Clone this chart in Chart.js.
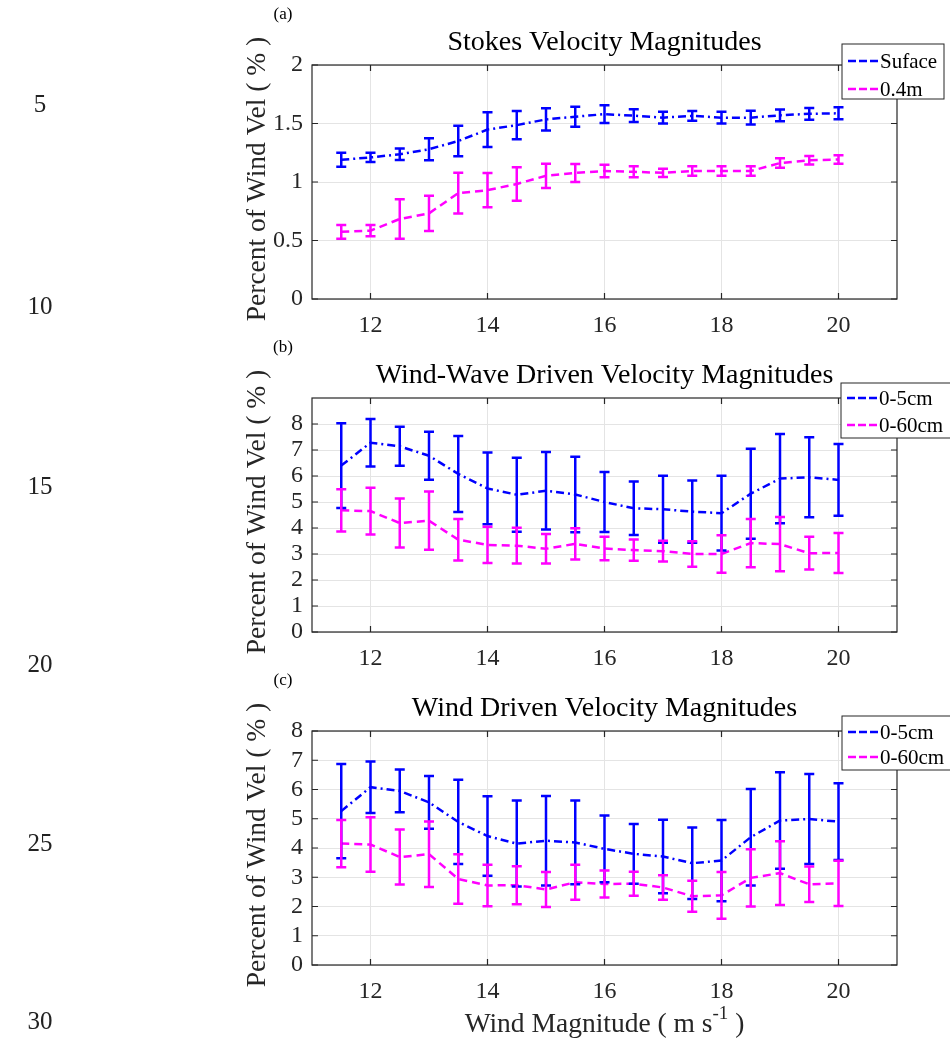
<!DOCTYPE html>
<html><head><meta charset="utf-8">
<script src="https://cdn.jsdelivr.net/npm/chart.js@4.4.1/dist/chart.umd.min.js"></script>
<style>
html,body{margin:0;padding:0;background:#fff;width:950px;height:1042px;overflow:hidden;position:relative;}
canvas{position:absolute;left:0;}
.ln{position:absolute;font-family:"Liberation Serif";font-size:25px;color:#222;transform:translate(-50%,-50%);line-height:1;}
</style></head><body>
<canvas id="ca" width="950" height="333" style="top:0px"></canvas>
<canvas id="cb" width="950" height="333" style="top:333px"></canvas>
<canvas id="cc" width="950" height="376" style="top:666px"></canvas>
<div class="ln" style="left:40px;top:103px">5</div>
<div class="ln" style="left:40px;top:305px">10</div>
<div class="ln" style="left:40px;top:485px">15</div>
<div class="ln" style="left:40px;top:663px">20</div>
<div class="ln" style="left:40px;top:842px">25</div>
<div class="ln" style="left:40px;top:1020px">30</div>
<script>
// ---- data ----
const windSpeed = [11.5,12,12.5,13,13.5,14,14.5,15,15.5,16,16.5,17,17.5,18,18.5,19,19.5,20];
const xTicks = [12,14,16,18,20];

const stokesSurface    = [1.19,1.21,1.237,1.28,1.35,1.448,1.486,1.535,1.558,1.58,1.567,1.55,1.565,1.55,1.55,1.57,1.583,1.587];
const stokesSurfaceErr = [0.06,0.04,0.05,0.095,0.13,0.148,0.12,0.095,0.085,0.075,0.054,0.05,0.042,0.05,0.058,0.05,0.05,0.051];
const stokes04m        = [0.574,0.584,0.684,0.732,0.905,0.93,0.983,1.053,1.077,1.094,1.087,1.078,1.094,1.094,1.094,1.162,1.186,1.192];
const stokes04mErr     = [0.058,0.048,0.168,0.151,0.175,0.146,0.143,0.104,0.077,0.054,0.047,0.036,0.04,0.04,0.04,0.04,0.036,0.036];

const wwd5cm     = [6.40,7.28,7.14,6.78,6.08,5.52,5.28,5.43,5.29,5.0,4.76,4.72,4.63,4.57,5.32,5.90,5.95,5.85];
const wwd5cmErr  = [1.63,0.91,0.75,0.92,1.46,1.38,1.42,1.49,1.45,1.15,1.03,1.29,1.2,1.44,1.73,1.72,1.54,1.38];
const wwd60cm    = [4.68,4.65,4.19,4.28,3.55,3.35,3.32,3.2,3.39,3.21,3.15,3.11,3.0,3.0,3.42,3.38,3.03,3.04];
const wwd60cmErr = [0.81,0.9,0.94,1.12,0.8,0.7,0.69,0.57,0.6,0.45,0.41,0.4,0.49,0.72,0.93,1.04,0.63,0.77];

const wd5cm     = [5.26,6.08,5.95,5.56,4.89,4.41,4.15,4.25,4.19,3.97,3.8,3.71,3.48,3.57,4.37,4.94,4.99,4.9];
const wd5cmErr  = [1.61,0.88,0.73,0.9,1.44,1.36,1.47,1.53,1.43,1.14,1.02,1.26,1.22,1.39,1.65,1.65,1.54,1.31];
const wd60cm    = [4.15,4.12,3.69,3.79,2.94,2.72,2.73,2.58,2.83,2.77,2.78,2.65,2.35,2.38,2.98,3.14,2.76,2.79];
const wd60cmErr = [0.81,0.93,0.94,1.12,0.85,0.71,0.65,0.6,0.6,0.46,0.41,0.42,0.53,0.8,0.98,1.09,0.61,0.77];

const yTicksA = [0,0.5,1,1.5,2];
const yTicksB = [0,1,2,3,4,5,6,7,8];
const yTicksC = [0,1,2,3,4,5,6,7,8];

// ---- styling ----
const FONT = 'Liberation Serif';
const AX = '#262626';
const BLUE = '#0000ff', MAG = '#ff00ff';
const DASH_B = [8,4,2,4], DASH_M = [8,5];

function decor(cfg){
  return {
    id:'decor'+cfg.label,
    afterDatasetsDraw(chart){
      const ctx = chart.ctx, ys = chart.scales.y;
      ctx.save();
      ctx.setLineDash([]);
      ctx.lineWidth = 2.5;
      chart.data.datasets.forEach((ds, di) => {
        const meta = chart.getDatasetMeta(di);
        ctx.strokeStyle = ds.borderColor;
        meta.data.forEach((pt, i) => {
          const v = ds.data[i].y, e = ds.errs[i];
          const y1 = ys.getPixelForValue(v + e), y2 = ys.getPixelForValue(v - e);
          const x = pt.x;
          ctx.beginPath();
          ctx.moveTo(x, y1); ctx.lineTo(x, y2);
          ctx.moveTo(x-5, y1); ctx.lineTo(x+5, y1);
          ctx.moveTo(x-5, y2); ctx.lineTo(x+5, y2);
          ctx.stroke();
        });
      });
      ctx.restore();
    },
    afterDraw(chart){
      const ctx = chart.ctx, a = chart.chartArea;
      const xs = chart.scales.x, ys = chart.scales.y;
      ctx.save();
      // box
      ctx.strokeStyle = AX; ctx.lineWidth = 1.2; ctx.setLineDash([]);
      ctx.strokeRect(a.left, a.top, a.right - a.left, a.bottom - a.top);
      // inward ticks
      ctx.beginPath();
      xTicks.forEach(v => { const x = xs.getPixelForValue(v);
        ctx.moveTo(x, a.bottom); ctx.lineTo(x, a.bottom - 6);
        ctx.moveTo(x, a.top); ctx.lineTo(x, a.top + 6); });
      cfg.yTicks.forEach(v => { const y = ys.getPixelForValue(v);
        ctx.moveTo(a.left, y); ctx.lineTo(a.left + 6, y);
        ctx.moveTo(a.right, y); ctx.lineTo(a.right - 6, y); });
      ctx.stroke();
      // title
      ctx.fillStyle = '#000';
      ctx.font = '28px "' + FONT + '"';
      ctx.textAlign = 'center'; ctx.textBaseline = 'middle';
      ctx.fillText(cfg.title, (a.left + a.right)/2, 43);
      // panel label
      ctx.font = '17px "' + FONT + '"';
      ctx.fillText(cfg.label, 283, 15);
      // y axis title
      ctx.save();
      ctx.translate(258, 179);
      ctx.rotate(-Math.PI/2);
      ctx.fillStyle = AX;
      ctx.font = '27.5px "' + FONT + '"';
      ctx.fillText('Percent of Wind Vel ( % )', 0, 0);
      ctx.restore();
      // legend
      const L = cfg.legend;
      ctx.fillStyle = '#fff';
      ctx.fillRect(L.x, L.y, L.w, L.h);
      ctx.strokeStyle = AX; ctx.lineWidth = 1;
      ctx.strokeRect(L.x, L.y, L.w, L.h);
      ctx.font = '21px "' + FONT + '"';
      ctx.textAlign = 'left';
      chart.data.datasets.forEach((ds, di) => {
        const yy = L.rows[di];
        ctx.strokeStyle = ds.borderColor; ctx.lineWidth = 2.5;
        ctx.setLineDash([8,3]);
        ctx.beginPath(); ctx.moveTo(L.x + 6, yy); ctx.lineTo(L.x + 37, yy); ctx.stroke();
        ctx.setLineDash([]);
        ctx.fillStyle = '#000';
        ctx.fillText(ds.label, L.x + 38, yy + 1);
      });
      // x axis title
      if (cfg.xTitle) {
        ctx.fillStyle = AX;
        const p1 = 'Wind Magnitude ( m s', sup = '-1', p2 = ' )';
        ctx.font = '27.5px "' + FONT + '"';
        const w1 = ctx.measureText(p1).width, w3 = ctx.measureText(p2).width;
        ctx.font = '19px "' + FONT + '"';
        const w2 = ctx.measureText(sup).width;
        let x0 = (a.left + a.right)/2 - (w1 + w2 + w3)/2;
        const yb = 359;
        ctx.textAlign = 'left';
        ctx.font = '27.5px "' + FONT + '"';
        ctx.fillText(p1, x0, yb);
        ctx.font = '19px "' + FONT + '"';
        ctx.fillText(sup, x0 + w1, yb - 11);
        ctx.font = '27.5px "' + FONT + '"';
        ctx.fillText(p2, x0 + w1 + w2, yb);
      }
      ctx.restore();
    }
  };
}

function makeChart(id, cfg){
  const H = document.getElementById(id).height;
  return new Chart(document.getElementById(id), {
    type:'line',
    data:{ datasets: cfg.series.map(s => ({
      label: s.label,
      data: windSpeed.map((x,i) => ({x:x, y:s.y[i]})),
      errs: s.e,
      borderColor: s.color, backgroundColor: s.color,
      borderWidth: 2.5, borderDash: s.dash,
      pointRadius: 0, fill: false, tension: 0
    }))},
    options:{
      responsive:false, animation:false,
      layout:{padding:{top:65, right:53, left:0, bottom:0}},
      plugins:{legend:{display:false}, title:{display:false}, tooltip:{enabled:false}},
      scales:{
        x:{type:'linear', min:11, max:21,
          afterBuildTicks: s => { s.ticks = xTicks.map(v => ({value:v})); },
          afterFit: s => { s.height = H - 65 - 234; },
          grid:{color:'#e4e4e4', lineWidth:1, drawTicks:false},
          border:{display:false},
          ticks:{padding:12, autoSkip:false, maxRotation:0, color:AX, font:{family:FONT, size:24}, callback: v => String(v)}
        },
        y:{type:'linear', min:0, max:cfg.ymax,
          afterBuildTicks: s => { s.ticks = cfg.yTicks.map(v => ({value:v})); },
          afterFit: s => { s.width = 312; },
          grid:{color:'#e4e4e4', lineWidth:1, drawTicks:false},
          border:{display:false},
          ticks:{padding:9, autoSkip:false, color:AX, font:{family:FONT, size:24}, callback: v => String(v)}
        }
      }
    },
    plugins:[decor(cfg)]
  });
}

makeChart('ca', {
  label:'(a)', title:'Stokes Velocity Magnitudes', ymax:2, yTicks:yTicksA,
  legend:{x:842, y:44, w:102, h:55, rows:[61,89]},
  series:[
    {label:'Suface', y:stokesSurface, e:stokesSurfaceErr, color:BLUE, dash:DASH_B},
    {label:'0.4m', y:stokes04m, e:stokes04mErr, color:MAG, dash:DASH_M}
  ]
});
makeChart('cb', {
  label:'(b)', title:'Wind-Wave Driven Velocity Magnitudes', ymax:9, yTicks:yTicksB,
  legend:{x:841, y:50, w:110, h:55, rows:[65,92]},
  series:[
    {label:'0-5cm', y:wwd5cm, e:wwd5cmErr, color:BLUE, dash:DASH_B},
    {label:'0-60cm', y:wwd60cm, e:wwd60cmErr, color:MAG, dash:DASH_M}
  ]
});
makeChart('cc', {
  label:'(c)', title:'Wind Driven Velocity Magnitudes', ymax:8, yTicks:yTicksC, xTitle:true,
  legend:{x:842, y:50, w:110, h:54, rows:[66,91]},
  series:[
    {label:'0-5cm', y:wd5cm, e:wd5cmErr, color:BLUE, dash:DASH_B},
    {label:'0-60cm', y:wd60cm, e:wd60cmErr, color:MAG, dash:DASH_M}
  ]
});
</script>
</body></html>
